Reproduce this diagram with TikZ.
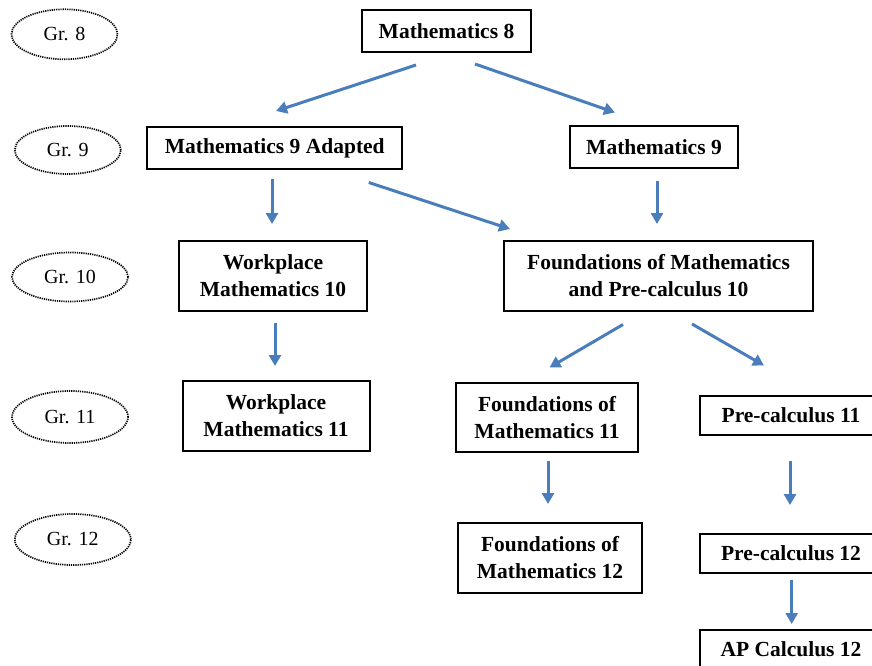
\documentclass[tikz,border=0pt]{standalone}
\usepackage{fontspec}
\setmainfont{Liberation Serif}
\usetikzlibrary{calc,arrows.meta,shapes.geometric}
\definecolor{arrblue}{HTML}{4A7EBB}
\begin{document}
\begin{tikzpicture}[x=1pt,y=-1pt,
  box/.style={draw,line width=2pt,align=center,inner sep=0pt,font=\fontsize{21.5}{27}\selectfont\bfseries},
  grade/.style={ellipse,draw,line width=1.7pt,dash pattern=on 1.2pt off 1pt,inner sep=0pt,font=\fontsize{20}{24}\selectfont},
  arr/.style={draw=arrblue,line width=3pt,-{Triangle[length=11pt,width=12pt]}}]
\useasboundingbox (0,0) rectangle (872,666);
% grade ellipses
\node[grade,minimum width=106pt,minimum height=50pt] (g8) at (64.5,34.3) {Gr. 8};
\node[grade,minimum width=106pt,minimum height=48pt] (g9) at (67.8,150) {Gr. 9};
\node[grade,minimum width=116pt,minimum height=49pt] (g10) at (70,277) {Gr. 10};
\node[grade,minimum width=116pt,minimum height=52pt] (g11) at (70,417) {Gr. 11};
\node[grade,minimum width=116pt,minimum height=51pt] (g12) at (72.8,539.5) {Gr. 12};
% course boxes
\node[box,minimum width=169pt,minimum height=42pt] (m8) at (446.5,31) {Mathematics 8};
\node[box,minimum width=255pt,minimum height=42pt] (ma) at (274.8,148) {Mathematics 9 Adapted};
\node[box,minimum width=168pt,minimum height=41pt] (m9) at (654,147) {Mathematics 9};
\node[box,minimum width=188pt,minimum height=70pt] (wp10) at (273,276) {Workplace\\Mathematics 10};
\node[box,minimum width=309pt,minimum height=70pt] (fmp10) at (658.5,276) {Foundations of Mathematics\\and Pre-calculus 10};
\node[box,minimum width=187pt,minimum height=70pt] (wp11) at (276,416) {Workplace\\Mathematics 11};
\node[box,minimum width=182pt,minimum height=69pt] (fom11) at (547,417.5) {Foundations of\\Mathematics 11};
\node[box,minimum width=182pt,minimum height=39pt] (pc11) at (791,415.5) {Pre-calculus 11};
\node[box,minimum width=184pt,minimum height=70pt] (fom12) at (550,558) {Foundations of\\Mathematics 12};
\node[box,minimum width=182pt,minimum height=39pt] (pc12) at (791,553.5) {Pre-calculus 12};
\node[box,minimum width=182pt,minimum height=39pt] (ap) at (791,649.5) {AP Calculus 12};
% arrows
\draw[arr] ($(m8.south)+(-30.5,12)$) -- ($(ma.north)+(1.2,-15)$);
\draw[arr] ($(m8.south)+(28.5,11)$) -- ($(m9.north)+(-39,-13)$);
\draw[arr] ($(ma.south)+(-2.8,9)$) -- ($(wp10.north)+(-1,-16)$);
\draw[arr] ($(ma.south)+(94,12.5)$) -- ($(fmp10.north)+(-148.5,-11)$);
\draw[arr] ($(m9.south)+(3,12)$) -- ($(fmp10.north)+(-1.5,-16)$);
\draw[arr] ($(wp10.south)+(2,11)$) -- ($(wp11.north)+(-1,-14)$);
\draw[arr] ($(fmp10.south)+(-35.5,12.5)$) -- ($(fom11.north)+(2.5,-14.5)$);
\draw[arr] ($(fmp10.south)+(33.5,12)$) -- ($(pc11.north)+(-27,-29.5)$);
\draw[arr] ($(fom11.south)+(1,8)$) -- ($(fom12.north)+(-2,-18)$);
\draw[arr] ($(pc11.south)+(-1,25)$) -- ($(pc12.north)+(-1,-28)$);
\draw[arr] ($(pc12.south)+(0.7,6)$) -- ($(ap.north)+(0.7,-5)$);
\end{tikzpicture}
\end{document}
